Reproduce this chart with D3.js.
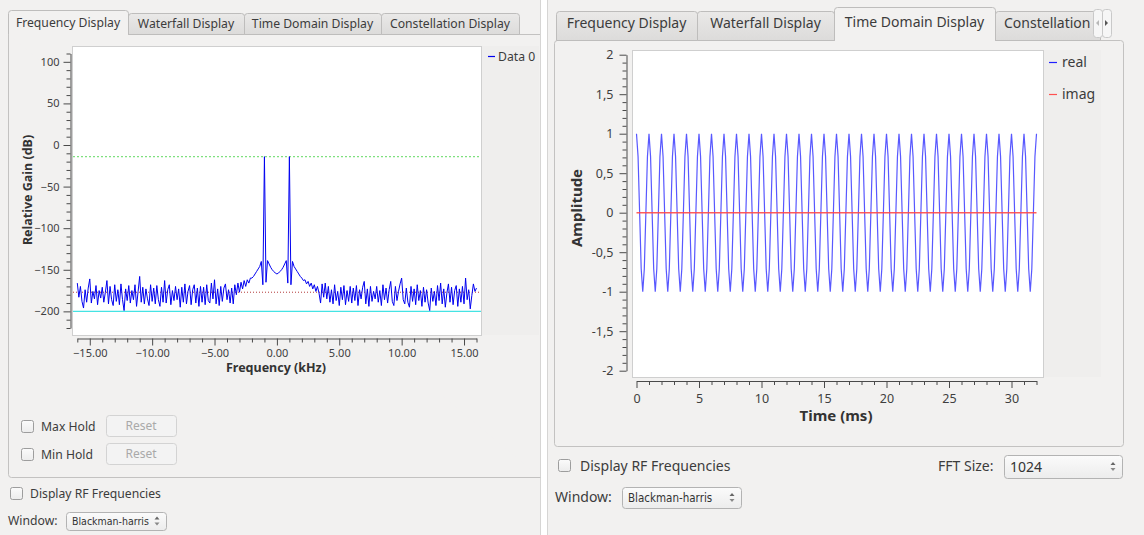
<!DOCTYPE html>
<html>
<head>
<meta charset="utf-8">
<script src="https://cdn.jsdelivr.net/npm/d3@7"></script>
<style>
  body { margin: 0; background: #ffffff; }
  svg { display: block; }
</style>
</head>
<body>
<div id="chart"></div>
<script>
// ---------- data ----------
// spectrum: one value every 0.125 kHz from -16 kHz to +16 kHz
var freqStartKhz = -16;
var freqStepKhz = 0.125;
var spectrumDb = [
  -166, -183, -170, -188, -196, -174, -189, -172, -161, -190, -176, -185, -169, -192, -175, -184,
  -171, -189, -177, -163, -191, -170, -186, -193, -168, -188, -174, -192, -167, -186, -199, -173,
  -187, -169, -190, -175, -186, -168, -194, -176, -158, -189, -171, -191, -173, -185, -193, -168,
  -188, -172, -191, -169, -186, -194, -171, -189, -163, -190, -174, -168, -192, -175, -187, -170,
  -186, -173, -195, -171, -189, -167, -191, -176, -169, -192, -174, -168, -190, -172, -194, -170,
  -189, -171, -192, -168, -187, -190, -166, -185, -162, -191, -173, -193, -170, -188, -172, -167,
  -186, -174, -190, -172, -191, -168, -180, -166, -177, -165, -173, -163, -170, -162, -166, -160,
  -160, -158, -155, -152, -149, -146, -140, -168,  -14, -165, -139, -143, -147, -150, -152, -154,
  -155, -154, -152, -150, -147, -143, -139, -166,  -14, -168, -140, -146, -149, -152, -155, -158,
  -160, -163, -162, -167, -164, -170, -166, -173, -168, -176, -170, -178, -190, -167, -183, -166,
  -185, -170, -189, -174, -191, -168, -187, -176, -193, -171, -186, -169, -192, -175, -188, -170,
  -190, -172, -187, -169, -193, -174, -185, -171, -164, -191, -173, -194, -170, -188, -176, -185,
  -170, -189, -175, -193, -168, -186, -172, -190, -174, -164, -188, -193, -170, -187, -176, -167,
  -160, -186, -191, -172, -189, -195, -170, -188, -173, -192, -168, -187, -175, -194, -171, -189,
  -174, -190, -199, -172, -188, -176, -193, -169, -187, -166, -191, -173, -195, -178, -167, -189,
  -171, -192, -175, -169, -194, -173, -189, -170, -191, -160, -186, -174, -197, -181, -167, -176,
  -172
];
var peakLevelDb = -14;
var floorLevelDb = -177;
var lowerLevelDb = -200;
var freqTickLabels = [-15, -10, -5, 0, 5, 10, 15];
var gainTickLabels = [-200, -150, -100, -50, 0, 50, 100];

// time domain: one sample every 0.125 ms, 0 .. 32 ms
var timeStepMs = 0.125;
var realSamples = [
  1, 0.71, 0, -0.71, -1, -0.71, 0, 0.71,
  1, 0.71, 0, -0.71, -1, -0.71, 0, 0.71,
  1, 0.71, 0, -0.71, -1, -0.71, 0, 0.71,
  1, 0.71, 0, -0.71, -1, -0.71, 0, 0.71,
  1, 0.71, 0, -0.71, -1, -0.71, 0, 0.71,
  1, 0.71, 0, -0.71, -1, -0.71, 0, 0.71,
  1, 0.71, 0, -0.71, -1, -0.71, 0, 0.71,
  1, 0.71, 0, -0.71, -1, -0.71, 0, 0.71,
  1, 0.71, 0, -0.71, -1, -0.71, 0, 0.71,
  1, 0.71, 0, -0.71, -1, -0.71, 0, 0.71,
  1, 0.71, 0, -0.71, -1, -0.71, 0, 0.71,
  1, 0.71, 0, -0.71, -1, -0.71, 0, 0.71,
  1, 0.71, 0, -0.71, -1, -0.71, 0, 0.71,
  1, 0.71, 0, -0.71, -1, -0.71, 0, 0.71,
  1, 0.71, 0, -0.71, -1, -0.71, 0, 0.71,
  1, 0.71, 0, -0.71, -1, -0.71, 0, 0.71,
  1, 0.71, 0, -0.71, -1, -0.71, 0, 0.71,
  1, 0.71, 0, -0.71, -1, -0.71, 0, 0.71,
  1, 0.71, 0, -0.71, -1, -0.71, 0, 0.71,
  1, 0.71, 0, -0.71, -1, -0.71, 0, 0.71,
  1, 0.71, 0, -0.71, -1, -0.71, 0, 0.71,
  1, 0.71, 0, -0.71, -1, -0.71, 0, 0.71,
  1, 0.71, 0, -0.71, -1, -0.71, 0, 0.71,
  1, 0.71, 0, -0.71, -1, -0.71, 0, 0.71,
  1, 0.71, 0, -0.71, -1, -0.71, 0, 0.71,
  1, 0.71, 0, -0.71, -1, -0.71, 0, 0.71,
  1, 0.71, 0, -0.71, -1, -0.71, 0, 0.71,
  1, 0.71, 0, -0.71, -1, -0.71, 0, 0.71,
  1, 0.71, 0, -0.71, -1, -0.71, 0, 0.71,
  1, 0.71, 0, -0.71, -1, -0.71, 0, 0.71,
  1, 0.71, 0, -0.71, -1, -0.71, 0, 0.71,
  1, 0.71, 0, -0.71, -1, -0.71, 0, 0.71,
  1
];
// imag part, one sample per ms
var imagStepMs = 1;
var imagSamples = [0, 0, 0, 0, 0, 0, 0, 0, 0, 0, 0, 0, 0, 0, 0, 0,
                   0, 0, 0, 0, 0, 0, 0, 0, 0, 0, 0, 0, 0, 0, 0, 0, 0];
var timeTickLabels = [0, 5, 10, 15, 20, 25, 30];
var ampTickLabels = [-2, -1.5, -1, -0.5, 0, 0.5, 1, 1.5, 2];

var tabNames = ["Frequency Display", "Waterfall Display", "Time Domain Display", "Constellation Display"];
var freqSeriesNames = ["Data 0"];
var timeSeriesNames = ["real", "imag"];
var windowName = "Blackman-harris";
var fftSizeText = "1024";

// ---------- drawing ----------
var uiFont = "'Noto Sans', 'Open Sans', sans-serif";
var narrowFont = "'Liberation Sans Narrow', 'DejaVu Sans Condensed', sans-serif";
var paneBg = "#f2f1f0";
var textCol = "#3c3c3c";

var svg = d3.select("#chart").append("svg")
  .attr("width", 1144)
  .attr("height", 535)
  .style("font-family", uiFont);

var defs = svg.append("defs");
var tabGrad = defs.append("linearGradient").attr("id", "tabGrad")
  .attr("x1", 0).attr("y1", 0).attr("x2", 0).attr("y2", 1);
tabGrad.append("stop").attr("offset", "0%").attr("stop-color", "#eae9e8");
tabGrad.append("stop").attr("offset", "100%").attr("stop-color", "#dcdbda");
var btnGrad = defs.append("linearGradient").attr("id", "btnGrad")
  .attr("x1", 0).attr("y1", 0).attr("x2", 0).attr("y2", 1);
btnGrad.append("stop").attr("offset", "0%").attr("stop-color", "#fbfbfb");
btnGrad.append("stop").attr("offset", "100%").attr("stop-color", "#ececec");

svg.append("rect").attr("width", 1144).attr("height", 535).attr("fill", "#ffffff");

// panel backgrounds
svg.append("rect").attr("x", 0).attr("y", 0).attr("width", 541).attr("height", 535).attr("fill", paneBg);
svg.append("rect").attr("x", 547).attr("y", 0).attr("width", 597).attr("height", 535).attr("fill", paneBg);
svg.append("line").attr("x1", 540.5).attr("x2", 540.5).attr("y1", 0).attr("y2", 535).attr("stroke", "#d6d5d4");
svg.append("line").attr("x1", 547.5).attr("x2", 547.5).attr("y1", 0).attr("y2", 535).attr("stroke", "#d6d5d4");

function tabPath(x0, x1, top, bottom) {
  var r = 3;
  return "M" + x0 + "," + bottom + "V" + (top + r) + "Q" + x0 + "," + top + " " + (x0 + r) + "," + top +
    "H" + (x1 - r) + "Q" + x1 + "," + top + " " + x1 + "," + (top + r) + "V" + bottom;
}

function drawTabs(g, edges, active, opt) {
  tabNames.forEach(function(name, i) {
    if (i === active || i >= edges.length - 1) return;
    g.append("path")
      .attr("d", tabPath(edges[i] + 0.5, edges[i + 1] + 0.5, opt.top + 0.5, opt.bottom + 0.5) + "Z")
      .attr("fill", "url(#tabGrad)")
      .attr("stroke", "#bebdbc");
    // the last tab of the right bar is cut by the scroll buttons: its text starts at the left padding
    var clipped = opt.clipLast && i === edges.length - 2;
    g.append("text")
      .attr("x", clipped ? edges[i] + 9 : (edges[i] + edges[i + 1]) / 2)
      .attr("y", opt.textY)
      .attr("text-anchor", clipped ? "start" : "middle")
      .attr("font-size", opt.fontSize)
      .attr("fill", textCol)
      .attr("clip-path", clipped ? opt.clipLast : null)
      .text(name);
  });
  var a0 = edges[active], a1 = edges[active + 1];
  g.append("rect").attr("x", a0 + 1).attr("y", opt.activeTop + 1).attr("width", a1 - a0 - 1)
    .attr("height", opt.bottom - opt.activeTop + 1).attr("fill", paneBg);
  g.append("path")
    .attr("d", tabPath(a0 + 0.5, a1 + 0.5, opt.activeTop + 0.5, opt.bottom + 0.5))
    .attr("fill", "none")
    .attr("stroke", "#bebdbc");
  g.append("text")
    .attr("x", (a0 + a1) / 2)
    .attr("y", opt.textY - 1)
    .attr("text-anchor", "middle")
    .attr("font-size", opt.fontSize)
    .attr("fill", textCol)
    .text(tabNames[active]);
}

function drawCheckbox(g, x, y, label, size, textX, textY) {
  g.append("rect").attr("x", x + 0.5).attr("y", y + 0.5).attr("width", 12).attr("height", 12)
    .attr("rx", 2).attr("fill", "url(#btnGrad)").attr("stroke", "#9d9d9d");
  g.append("text").attr("x", textX || x + 20).attr("y", textY || y + 11).attr("font-size", size)
    .attr("fill", textCol).text(label);
}

function drawButton(g, x, y, w, h, label) {
  g.append("rect").attr("x", x + 0.5).attr("y", y + 0.5).attr("width", w).attr("height", h)
    .attr("rx", 3).attr("fill", "#f3f3f3").attr("stroke", "#d3d3d3");
  g.append("text").attr("x", x + w / 2).attr("y", y + h / 2 + 4.5).attr("text-anchor", "middle")
    .attr("font-size", 12).attr("fill", "#a9a9a9").text(label);
}

function drawSpin(g, x, y, w, h, label, font, size) {
  g.append("rect").attr("x", x + 0.5).attr("y", y + 0.5).attr("width", w).attr("height", h)
    .attr("rx", 3).attr("fill", "url(#btnGrad)").attr("stroke", "#b3b3b3");
  g.append("text").attr("x", x + 6).attr("y", y + h / 2 + size * 0.36)
    .attr("font-family", font).attr("font-size", size).attr("fill", "#333").text(label);
  var cx = x + w - 9, cy = y + h / 2;
  g.append("path").attr("d", "M" + (cx - 2.5) + "," + (cy - 1.5) + "L" + cx + "," + (cy - 4.5) + "L" + (cx + 2.5) + "," + (cy - 1.5) + "Z")
    .attr("fill", "#666");
  g.append("path").attr("d", "M" + (cx - 2.5) + "," + (cy + 1.5) + "L" + cx + "," + (cy + 4.5) + "L" + (cx + 2.5) + "," + (cy + 1.5) + "Z")
    .attr("fill", "#888");
}

function styleAxis(g, size) {
  g.selectAll(".domain").attr("stroke", "#4a4a4a");
  g.selectAll(".tick line").attr("stroke", "#4a4a4a");
  g.selectAll(".tick text").attr("fill", "#3f3f3f").attr("font-size", size).attr("font-family", uiFont);
  g.attr("font-family", uiFont);
}

function minorTicks(lo, hi, step, majors) {
  return d3.range(lo, hi + step / 2, step)
    .map(function(v) { return Math.round(v * 1000) / 1000; })
    .filter(function(v) { return majors.indexOf(v) < 0; });
}

// ====================== LEFT: frequency display ======================
var left = svg.append("g");

// tab pane
left.append("path")
  .attr("d", "M8.5,34.5V474.5Q8.5,477.5 11.5,477.5H540.5")
  .attr("fill", paneBg).attr("stroke", "#c3c2c1");
left.append("line").attr("x1", 8.5).attr("x2", 540).attr("y1", 34.5).attr("y2", 34.5).attr("stroke", "#c3c2c1");
drawTabs(left, [8, 128, 244, 381, 519], 0, { top: 13, bottom: 34, activeTop: 10, textY: 28, fontSize: 12.2 });

var fx = d3.scaleLinear().domain([-16, 16]).range([77.3, 476.5]);
var fy = d3.scaleLinear().domain([-220, 110]).range([328, 53.5]);

// legend area + canvas
left.append("rect").attr("x", 482).attr("y", 46).attr("width", 57).attr("height", 289).attr("fill", "#efeeed");
left.append("rect").attr("x", 72.5).attr("y", 46.5).attr("width", 409).attr("height", 289)
  .attr("fill", "#ffffff").attr("stroke", "#cfcfcf");
defs.append("clipPath").attr("id", "fclip").append("rect")
  .attr("x", 73).attr("y", 47).attr("width", 408).attr("height", 288);

var fplot = left.append("g").attr("clip-path", "url(#fclip)");
fplot.append("line").attr("x1", 73).attr("x2", 481).attr("y1", fy(peakLevelDb)).attr("y2", fy(peakLevelDb))
  .attr("stroke", "#7fe07f").attr("stroke-width", 1.2).attr("stroke-dasharray", "2,2");
fplot.append("line").attr("x1", 73).attr("x2", 481).attr("y1", fy(lowerLevelDb)).attr("y2", fy(lowerLevelDb))
  .attr("stroke", "#45e3e3").attr("stroke-width", 1.3);
fplot.append("line").attr("x1", 73).attr("x2", 481).attr("y1", fy(floorLevelDb)).attr("y2", fy(floorLevelDb))
  .attr("stroke", "#b23a3a").attr("stroke-width", 1).attr("stroke-dasharray", "1,2");

var specLine = d3.line()
  .x(function(d, i) { return fx(freqStartKhz + i * freqStepKhz); })
  .y(function(d) { return fy(d); });
fplot.append("path").datum(spectrumDb)
  .attr("d", specLine)
  .attr("fill", "none")
  .attr("stroke", "#0000f0")
  .attr("stroke-width", 1);

// axes
var fyAxis = left.append("g").attr("transform", "translate(70.5,0)")
  .call(d3.axisLeft(fy).tickValues(gainTickLabels).tickSize(7).tickSizeOuter(0).tickPadding(4));
left.append("g").attr("transform", "translate(70.5,0)")
  .call(d3.axisLeft(fy).tickValues(minorTicks(-220, 110, 10, gainTickLabels)).tickSize(4).tickFormat(""))
  .call(function(g) { g.select(".domain").remove(); styleAxis(g, 11); });
styleAxis(fyAxis, 11);

var fxAxis = left.append("g").attr("transform", "translate(0,338.5)")
  .call(d3.axisBottom(fx).tickValues(freqTickLabels).tickSize(7).tickSizeOuter(0).tickPadding(4)
    .tickFormat(d3.format(".2f")));
left.append("g").attr("transform", "translate(0,338.5)")
  .call(d3.axisBottom(fx).tickValues(minorTicks(-16, 16, 1, freqTickLabels)).tickSize(4).tickFormat(""))
  .call(function(g) { g.select(".domain").remove(); styleAxis(g, 11); });
styleAxis(fxAxis, 11);

left.append("text")
  .attr("transform", "translate(32,190) rotate(-90)")
  .attr("text-anchor", "middle")
  .attr("font-size", 12.5).attr("font-weight", "bold").attr("fill", "#333")
  .text("Relative Gain (dB)");
left.append("text")
  .attr("x", 276).attr("y", 372)
  .attr("text-anchor", "middle")
  .attr("font-size", 12.5).attr("font-weight", "bold").attr("fill", "#333")
  .text("Frequency (kHz)");

// legend
freqSeriesNames.forEach(function(name, i) {
  left.append("line").attr("x1", 488).attr("x2", 495).attr("y1", 56.5 + i * 20).attr("y2", 56.5 + i * 20)
    .attr("stroke", "#0000f0").attr("stroke-width", 1.2);
  left.append("text").attr("x", 498).attr("y", 61 + i * 20).attr("font-size", 12.2).attr("fill", textCol).text(name);
});

// controls
drawCheckbox(left, 21, 420, "Max Hold", 12.2);
drawButton(left, 106, 415, 70, 21, "Reset");
drawCheckbox(left, 21, 448, "Min Hold", 12.2);
drawButton(left, 106, 443, 70, 21, "Reset");
drawCheckbox(left, 10, 487, "Display RF Frequencies", 12.2);
left.append("text").attr("x", 8).attr("y", 525).attr("font-size", 12.2).attr("fill", textCol).text("Window:");
drawSpin(left, 66, 512, 100, 18, windowName, narrowFont, 10.5);

// ====================== RIGHT: time domain display ======================
var right = svg.append("g");

right.append("rect").attr("x", 554.5).attr("y", 40.5).attr("width", 569).attr("height", 406)
  .attr("rx", 3).attr("fill", paneBg).attr("stroke", "#c3c2c1");
defs.append("clipPath").attr("id", "tabclip").append("rect")
  .attr("x", 995).attr("y", 0).attr("width", 98).attr("height", 45);
drawTabs(right, [556, 697, 834, 995, 1100], 2,
  { top: 11, bottom: 40, activeTop: 7, textY: 28, fontSize: 14, clipLast: "url(#tabclip)" });
// scroll buttons of the tab bar
[[1093, "M1099,20L1096,23L1099,26Z", "#b8b8b8"], [1102, "M1105,20L1108,23L1105,26Z", "#555"]].forEach(function(b) {
  right.append("rect").attr("x", b[0] + 0.5).attr("y", 9.5).attr("width", 9).attr("height", 28)
    .attr("rx", 3).attr("fill", "#f6f6f6").attr("stroke", "#c9c9c9");
  right.append("path").attr("d", b[1]).attr("fill", b[2]);
});

var tx = d3.scaleLinear().domain([0, 32]).range([636.5, 1036.5]);
var ty = d3.scaleLinear().domain([-2, 2]).range([370.7, 54.7]);

right.append("rect").attr("x", 1044).attr("y", 50).attr("width", 57).attr("height", 327).attr("fill", "#efeeed");
right.append("rect").attr("x", 632.5).attr("y", 50.5).attr("width", 411).attr("height", 327)
  .attr("fill", "#ffffff").attr("stroke", "#cfcfcf");
defs.append("clipPath").attr("id", "tclip").append("rect")
  .attr("x", 633).attr("y", 51).attr("width", 410).attr("height", 326);

var tplot = right.append("g").attr("clip-path", "url(#tclip)");
var realLine = d3.line()
  .x(function(d, i) { return tx(i * timeStepMs); })
  .y(function(d) { return ty(d); });
var imagLine = d3.line()
  .x(function(d, i) { return tx(i * imagStepMs); })
  .y(function(d) { return ty(d); });
tplot.append("path").datum(realSamples)
  .attr("d", realLine).attr("fill", "none")
  .attr("stroke", "#3b3bff").attr("stroke-opacity", 0.85).attr("stroke-width", 1.2);
tplot.append("path").datum(imagSamples)
  .attr("d", imagLine).attr("fill", "none")
  .attr("stroke", "#ff4a4a").attr("stroke-opacity", 0.9).attr("stroke-width", 1.6);

var commaFmt = function(d) { return String(d).replace(".", ","); };
var tyAxis = right.append("g").attr("transform", "translate(626.5,0)")
  .call(d3.axisLeft(ty).tickValues(ampTickLabels).tickSize(7).tickSizeOuter(0).tickPadding(6).tickFormat(commaFmt));
right.append("g").attr("transform", "translate(626.5,0)")
  .call(d3.axisLeft(ty).tickValues(minorTicks(-2, 2, 0.1, ampTickLabels)).tickSize(4).tickFormat(""))
  .call(function(g) { g.select(".domain").remove(); styleAxis(g, 12.5); });
styleAxis(tyAxis, 12.5);

var txAxis = right.append("g").attr("transform", "translate(0,381)")
  .call(d3.axisBottom(tx).tickValues(timeTickLabels).tickSize(7).tickSizeOuter(0).tickPadding(6));
right.append("g").attr("transform", "translate(0,381)")
  .call(d3.axisBottom(tx).tickValues(minorTicks(0, 32, 1, timeTickLabels)).tickSize(4).tickFormat(""))
  .call(function(g) { g.select(".domain").remove(); styleAxis(g, 12.5); });
styleAxis(txAxis, 12.5);

right.append("text")
  .attr("transform", "translate(582,208) rotate(-90)")
  .attr("text-anchor", "middle")
  .attr("font-size", 15).attr("font-weight", "bold").attr("fill", "#333")
  .text("Amplitude");
right.append("text")
  .attr("x", 836).attr("y", 421)
  .attr("text-anchor", "middle")
  .attr("font-size", 15).attr("font-weight", "bold").attr("fill", "#333")
  .text("Time (ms)");

var timeColors = ["#2020ff", "#ff5050"];
timeSeriesNames.forEach(function(name, i) {
  right.append("line").attr("x1", 1049).attr("x2", 1057).attr("y1", 62.5 + i * 32).attr("y2", 62.5 + i * 32)
    .attr("stroke", timeColors[i]).attr("stroke-width", 1.2);
  right.append("text").attr("x", 1062).attr("y", 67 + i * 32).attr("font-size", 14).attr("fill", textCol).text(name);
});

drawCheckbox(right, 558, 459, "Display RF Frequencies", 14, 580, 470.5);
right.append("text").attr("x", 938).attr("y", 470.5).attr("font-size", 14).attr("fill", textCol).text("FFT Size:");
drawSpin(right, 1004, 455, 118, 23, fftSizeText, uiFont, 14);
right.append("text").attr("x", 555).attr("y", 502).attr("font-size", 14).attr("fill", textCol).text("Window:");
drawSpin(right, 622, 487, 119, 21, windowName, narrowFont, 11.5);
</script>
</body>
</html>
